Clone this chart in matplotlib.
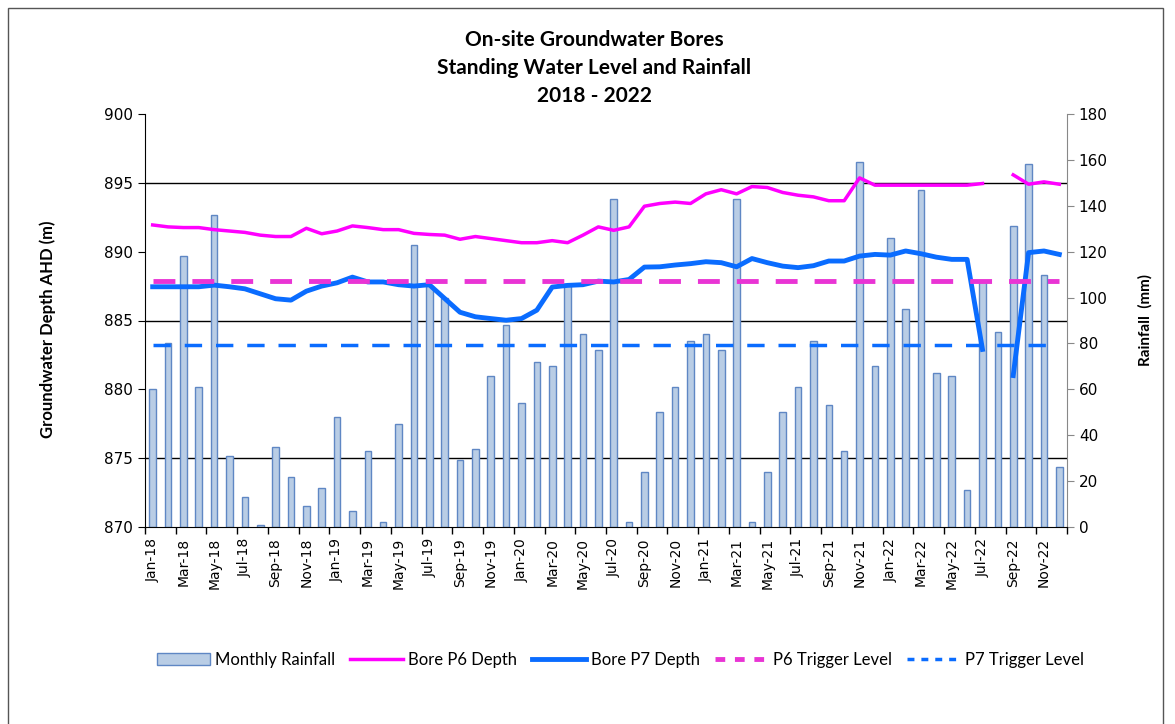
import numpy as np
import matplotlib
matplotlib.use("Agg")
import matplotlib.pyplot as plt
from matplotlib.patches import Rectangle, Patch
from matplotlib.lines import Line2D

# Meses Jan-18 .. Dec-22
months = [f"{m}-{y}" for y in range(18, 23)
          for m in ["Jan", "Feb", "Mar", "Apr", "May", "Jun",
                    "Jul", "Aug", "Sep", "Oct", "Nov", "Dec"]]

rainfall = [60, 80, 118, 61, 136, 31, 13, 1, 35, 22, 9, 17,
            48, 7, 33, 2, 45, 123, 105, 100, 29, 34, 66, 88,
            54, 72, 70, 106, 84, 77, 143, 2, 24, 50, 61, 81,
            84, 77, 143, 2, 24, 50, 61, 81, 53, 33, 159, 70,
            126, 95, 147, 67, 66, 16, 107, 85, 131, 158, 110, 26]

p6_depth = [891.94, 891.8, 891.75, 891.75, 891.6, 891.5, 891.4, 891.2, 891.1, 891.1, 891.7, 891.3,
            891.5, 891.87, 891.75, 891.6, 891.6, 891.33, 891.25, 891.2, 890.9, 891.1, 890.95, 890.8,
            890.65, 890.65, 890.8, 890.65, 891.2, 891.8, 891.55, 891.8, 893.3, 893.5, 893.6, 893.5,
            894.2, 894.5, 894.2, 894.73, 894.66, 894.3, 894.1, 893.98, 893.7, 893.7, 895.36, 894.83,
            894.83, 894.83, 894.83, 894.83, 894.83, 894.83, 894.95, np.nan, 895.58, 894.9, 895.07, 894.9]

p7_depth = [887.45, 887.45, 887.45, 887.45, 887.57, 887.45, 887.3, 886.94, 886.58, 886.48, 887.13, 887.5,
            887.74, 888.15, 887.8, 887.8, 887.6, 887.5, 887.6, 886.6, 885.6, 885.27, 885.14, 885.02,
            885.14, 885.75, 887.43, 887.55, 887.6, 887.86, 887.8, 887.98, 888.88, 888.9, 889.03, 889.13,
            889.27, 889.2, 888.9, 889.5, 889.2, 888.95, 888.84, 888.98, 889.32, 889.32, 889.68, 889.8,
            889.75, 890.05, 889.85, 889.6, 889.44, 889.44, 882.9, np.nan, 881.0, 889.93, 890.05, 889.8]

p6_trigger = 887.9
p7_trigger = 883.2

x = np.arange(len(months))

fig = plt.figure(figsize=(11.75, 7.24), dpi=100)
ax = fig.add_axes([145 / 1175, 1 - 527 / 724, 922 / 1175, 413 / 724])
axr = ax.twinx()
ax.set_zorder(axr.get_zorder() + 1)
ax.patch.set_visible(False)

# Lluvia (eje derecho)
axr.bar(x, rainfall, width=0.43, color="#b9cde5", edgecolor="#5f87c4", linewidth=1)
axr.set_ylim(0, 180)
axr.set_yticks(np.arange(0, 181, 20))
axr.set_yticks(np.arange(0, 181, 30), minor=True)
axr.yaxis.grid(True, which="minor", color="black", linewidth=1)
axr.set_axisbelow(True)
axr.tick_params(axis="y", which="minor", length=0)
axr.tick_params(axis="y", which="major", labelsize=11, length=5, color="#888888")
axr.set_ylabel("Rainfall  (mm)", fontsize=11, fontweight="bold", family="Lato", labelpad=22)

# Niveles (eje izquierdo)
ax.plot(x, p6_depth, color="#ff00ff", linewidth=2.5)
ax.plot(x, p7_depth, color="#0a6cff", linewidth=3.5)
ax.plot(x, [p6_trigger] * len(x), color="#e934d4", linewidth=3.5, dashes=(4.5, 3.5))
ax.plot(x, [p7_trigger] * len(x), color="#0a6cff", linewidth=2.5, dashes=(5, 4))
ax.set_ylim(870, 900)
ax.set_yticks(np.arange(870, 901, 5))
ax.tick_params(axis="y", labelsize=11, length=5)
ax.set_ylabel("Groundwater Depth AHD (m)", fontsize=12, fontweight="bold", family="Lato")
ax.yaxis.set_label_coords(-0.097, 0.48)

ax.set_xlim(-0.5, len(x) - 0.5)
ax.set_xticks(x[::2])
ax.set_xticklabels(months[::2], rotation=90, fontsize=10)
ax.set_xticks(np.arange(-0.5, len(x), 2), minor=True)
ax.tick_params(axis="x", which="major", length=0, pad=8)
ax.tick_params(axis="x", which="minor", length=5, width=1)

for a in (ax, axr):
    a.spines["top"].set_visible(False)
ax.spines["right"].set_visible(False)
axr.spines["left"].set_visible(False)
axr.spines["bottom"].set_visible(False)
axr.spines["right"].set_color("#888888")

fig.text(0.506, 0.958, "On-site Groundwater Bores\nStanding Water Level and Rainfall\n2018 - 2022",
         ha="center", va="top", fontsize=15, fontweight="bold", family="Lato", linespacing=1.5)

handles = [
    Patch(facecolor="#b9cde5", edgecolor="#5f87c4"),
    Line2D([], [], color="#ff00ff", linewidth=2.5),
    Line2D([], [], color="#0a6cff", linewidth=3.5),
    Line2D([], [], color="#e934d4", linewidth=3.5, dashes=(2, 2)),
    Line2D([], [], color="#0a6cff", linewidth=2.5, dashes=(2, 2)),
]
labels = ["Monthly Rainfall", "Bore P6 Depth", "Bore P7 Depth", "P6 Trigger Level", "P7 Trigger Level"]
fig.legend(handles, labels, loc="center", bbox_to_anchor=(0.528, 1 - 660 / 724), ncol=5,
           frameon=False, prop={"family": "Lato", "size": 12}, handlelength=3.2,
           columnspacing=0.9, handletextpad=0.3)

fig.patches.append(Rectangle((8 / 1175, -0.01), 1155 / 1175, 1 - 8 / 724 + 0.01,
                             transform=fig.transFigure, fill=False, edgecolor="#555555", linewidth=1))

fig.savefig("out.png", dpi=100)
